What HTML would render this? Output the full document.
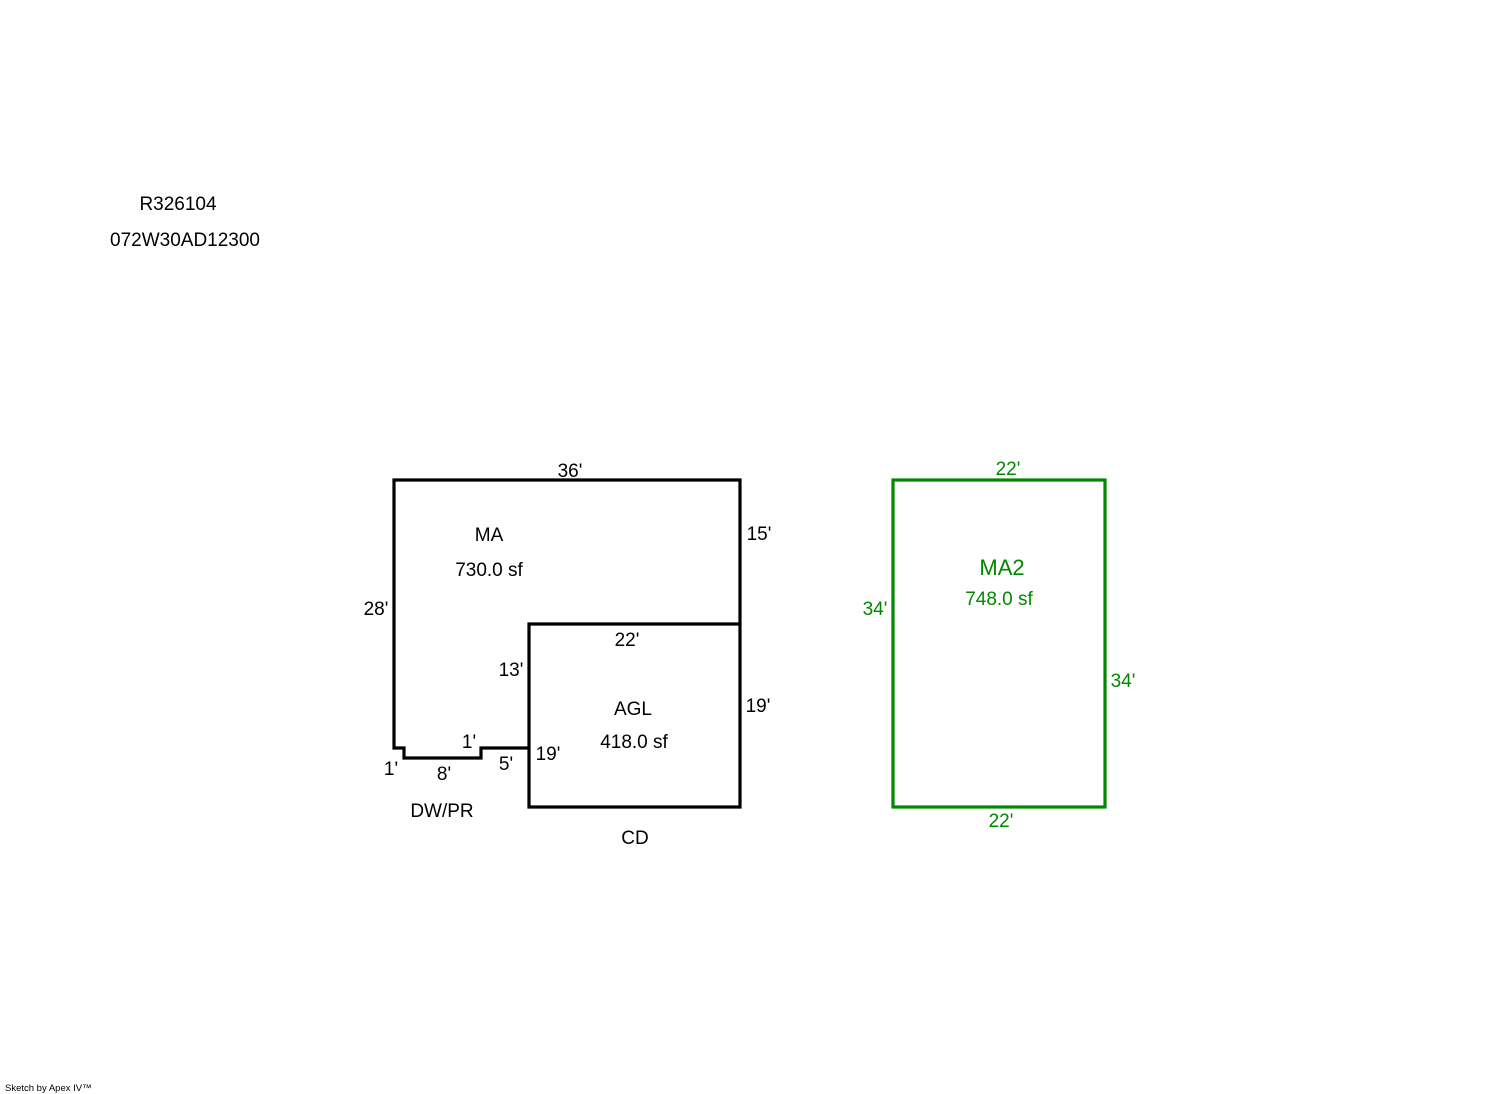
<!DOCTYPE html>
<html><head><style>body{margin:0;background:#fff}svg{display:block}text{font-family:"Liberation Sans",sans-serif;font-size:19px}</style></head><body>
<svg width="1492" height="1094" xmlns="http://www.w3.org/2000/svg">
<g fill="none" stroke="#000" stroke-width="3.2">
<path d="M394,480 H740 V807 H529 V748 H481 V758 H404 V748 H394 Z"/>
<path d="M529,748 V624 H740"/>
</g>
<rect x="893" y="480" width="212" height="327" fill="none" stroke="#008800" stroke-width="3.2"/>
<g fill="#000" text-anchor="middle">
<text x="178" y="210">R326104</text>
<text x="185" y="246">072W30AD12300</text>
<text x="570" y="477">36'</text>
<text x="759" y="540">15'</text>
<text x="489" y="541">MA</text>
<text x="489" y="576">730.0 sf</text>
<text x="376" y="615">28'</text>
<text x="627" y="646">22'</text>
<text x="511" y="676">13'</text>
<text x="633" y="715">AGL</text>
<text x="634" y="748">418.0 sf</text>
<text x="758" y="712">19'</text>
<text x="469" y="748">1'</text>
<text x="548" y="760">19'</text>
<text x="506" y="770">5'</text>
<text x="391" y="775">1'</text>
<text x="444" y="780">8'</text>
<text x="442" y="817">DW/PR</text>
<text x="635" y="844">CD</text>
</g>
<g fill="#008800" text-anchor="middle">
<text x="1008" y="475">22'</text>
<text x="1002" y="575" style="font-size:22px">MA2</text>
<text x="999" y="605">748.0 sf</text>
<text x="875" y="615">34'</text>
<text x="1123" y="687">34'</text>
<text x="1001" y="827">22'</text>
</g>
<text x="5" y="1091" style="font-size:9.5px">Sketch by Apex IV™</text>
</svg>
</body></html>
